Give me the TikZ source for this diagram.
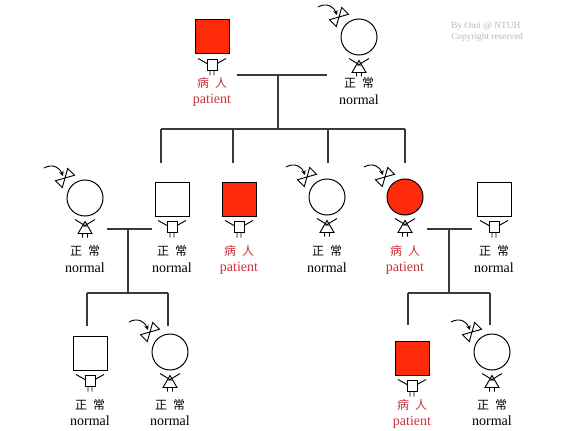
\documentclass[tikz,border=0pt]{standalone}
\usepackage{fontspec}
\setmainfont{Liberation Serif}
\newfontfamily\zhfont{Noto Sans CJK SC}
\usepackage{tikz}
\usetikzlibrary{arrows.meta,calc}
\definecolor{PRed}{HTML}{FF2A0A}
\definecolor{PText}{HTML}{C8323C}
\definecolor{LGray}{HTML}{3A3A3A}
\definecolor{CGray}{HTML}{B8B8B8}
\newcommand{\zhpair}[2]{#1\hspace{4.5pt}#2}
% little body under a square
\newcommand{\boyfig}[1]{%
  \draw[fig] ($(#1.south)+(-5,5)$) rectangle ($(#1.south)+(5,16)$);
  \draw[fig] ($(#1.south)+(-5,9)$) -- ($(#1.south)+(-14,4)$)
             ($(#1.south)+(5,9)$) -- ($(#1.south)+(14,4)$)
             ($(#1.south)+(-2,16)$) -- ++(0,5)
             ($(#1.south)+(2,16)$) -- ++(0,5);}
% dress under a circle, bow and arrow above it
\newcommand{\girlfig}[1]{%
  \draw[fig] ($(#1.south)+(0,5)$) -- ($(#1.south)+(7,17)$) -- ($(#1.south)+(-7,17)$) -- cycle;
  \draw[fig] ($(#1.south)+(-10,3)$) -- ($(#1.south)+(1.5,10)$)
             ($(#1.south)+(10,3)$) -- ($(#1.south)+(-1.5,10)$)
             ($(#1.south)+(-2.5,17)$) -- ++(0,4)
             ($(#1.south)+(2.5,17)$) -- ++(0,4);
  \coordinate (#1b) at ($(#1.center)+(-20,-20)$);
  \draw[fig] (#1b) -- ($(#1b)+(9.5,-2.7)$) -- ($(#1b)+(2.7,-9.5)$) -- cycle;
  \draw[fig] (#1b) -- ($(#1b)+(-2.7,9.5)$) -- ($(#1b)+(-9.5,2.7)$) -- cycle;
  \draw[fig,-{Stealth[length=3.5pt,width=3.5pt]}] ($(#1b)+(-21,-10)$)
    .. controls ($(#1b)+(-12,-15)$) and ($(#1b)+(-5,-10)$) .. ($(#1b)+(-2,-2)$);}

\begin{document}
\begin{tikzpicture}[x=0.75pt,y=-0.75pt,
  male/.style={draw,line width=0.75pt,minimum size=25.5pt,inner sep=0pt,fill=white},
  female/.style={circle,draw,line width=0.75pt,minimum size=27pt,inner sep=0pt,fill=white},
  sick/.style={fill=PRed},
  fig/.style={line width=0.7pt},
  ln/.style={line width=1.1pt,color=LGray},
  zh/.style={font=\zhfont\fontsize{9}{9}\selectfont,inner sep=0pt},
  en/.style={font=\fontsize{10.5}{10.5}\selectfont,inner sep=0pt},
  ill/.style={text=PText}
]
\useasboundingbox[fill=white] (0,0) rectangle (574,431);

% generation I
\node[male,sick] (m0) at (212,37) {};
\node[female] (f0) at (359,37) {};
\boyfig{m0}
\girlfig{f0}
\node[zh,ill] (m0zh) at (212,83) {\zhpair{病}{人}};
\node[en,ill] (m0en) at (212,100) {patient};
\node[zh] (f0zh) at (359,83) {\zhpair{正}{常}};
\node[en] (f0en) at (359,100) {normal};

% generation II
\node[female] (f1) at (85,198) {};
\node[male] (m1) at (172,199) {};
\node[male,sick] (m2) at (239,199) {};
\node[female] (f2) at (327,197) {};
\node[female,sick] (f3) at (405,197) {};
\node[male] (m3) at (494,199) {};
\foreach \p in {f1,f2,f3} {\girlfig{\p}}
\foreach \p in {m1,m2,m3} {\boyfig{\p}}
\node[zh] (f1zh) at (85,251) {\zhpair{正}{常}};
\node[en] (f1en) at (85,268) {normal};
\node[zh] (m1zh) at (172,251) {\zhpair{正}{常}};
\node[en] (m1en) at (172,268) {normal};
\node[zh,ill] (m2zh) at (239,251) {\zhpair{病}{人}};
\node[en,ill] (m2en) at (239,268) {patient};
\node[zh] (f2zh) at (327,251) {\zhpair{正}{常}};
\node[en] (f2en) at (327,268) {normal};
\node[zh,ill] (f3zh) at (405,251) {\zhpair{病}{人}};
\node[en,ill] (f3en) at (405,268) {patient};
\node[zh] (m3zh) at (494,251) {\zhpair{正}{常}};
\node[en] (m3en) at (494,268) {normal};

% generation III
\node[male] (m4) at (90,353) {};
\node[female] (f4) at (170,352) {};
\node[male,sick] (m5) at (412,358) {};
\node[female] (f5) at (492,352) {};
\boyfig{m4}
\boyfig{m5}
\girlfig{f4}
\girlfig{f5}
\node[zh] (m4zh) at (90,405) {\zhpair{正}{常}};
\node[en] (m4en) at (90,421) {normal};
\node[zh] (f4zh) at (170,405) {\zhpair{正}{常}};
\node[en] (f4en) at (170,421) {normal};
\node[zh,ill] (m5zh) at (412,405) {\zhpair{病}{人}};
\node[en,ill] (m5en) at (412,422) {patient};
\node[zh] (f5zh) at (492,405) {\zhpair{正}{常}};
\node[en] (f5en) at (492,421) {normal};

% marriage and sibship lines
\coordinate (u0a) at (237,75);
\coordinate (u0b) at (327,75);
\coordinate (k0) at (278,75);
\coordinate (s0) at (278,129);
\draw[ln] (u0a) -- (u0b);
\draw[ln] (k0) -- (s0);
\draw[ln] (161,129) coordinate (s0a) -- (405,129) coordinate (s0b);
\foreach \x in {161,233,328,405} {\draw[ln] (\x,129) -- (\x,163);}

\coordinate (u1a) at (107,229);
\coordinate (u1b) at (152,229);
\coordinate (k1) at (128,229);
\coordinate (s1) at (128,293);
\draw[ln] (u1a) -- (u1b);
\draw[ln] (k1) -- (s1);
\draw[ln] (87,293) coordinate (s1a) -- (168,293) coordinate (s1b);
\foreach \x in {87,168} {\draw[ln] (\x,293) -- (\x,326);}

\coordinate (u2a) at (427,229);
\coordinate (u2b) at (472,229);
\coordinate (k2) at (449,229);
\coordinate (s2) at (449,293);
\draw[ln] (u2a) -- (u2b);
\draw[ln] (k2) -- (s2);
\draw[ln] (408,293) coordinate (s2a) -- (490,293) coordinate (s2b);
\foreach \x in {408,490} {\draw[ln] (\x,293) -- (\x,325);}

% credit
\node[anchor=west,inner sep=0pt,text=CGray,font=\fontsize{7}{7}\selectfont] (cr1) at (451,26) {By Omi @ NTUH};
\node[anchor=west,inner sep=0pt,text=CGray,font=\fontsize{7}{7}\selectfont] (cr2) at (451,37) {Copyright reserved};
\end{tikzpicture}
\end{document}
